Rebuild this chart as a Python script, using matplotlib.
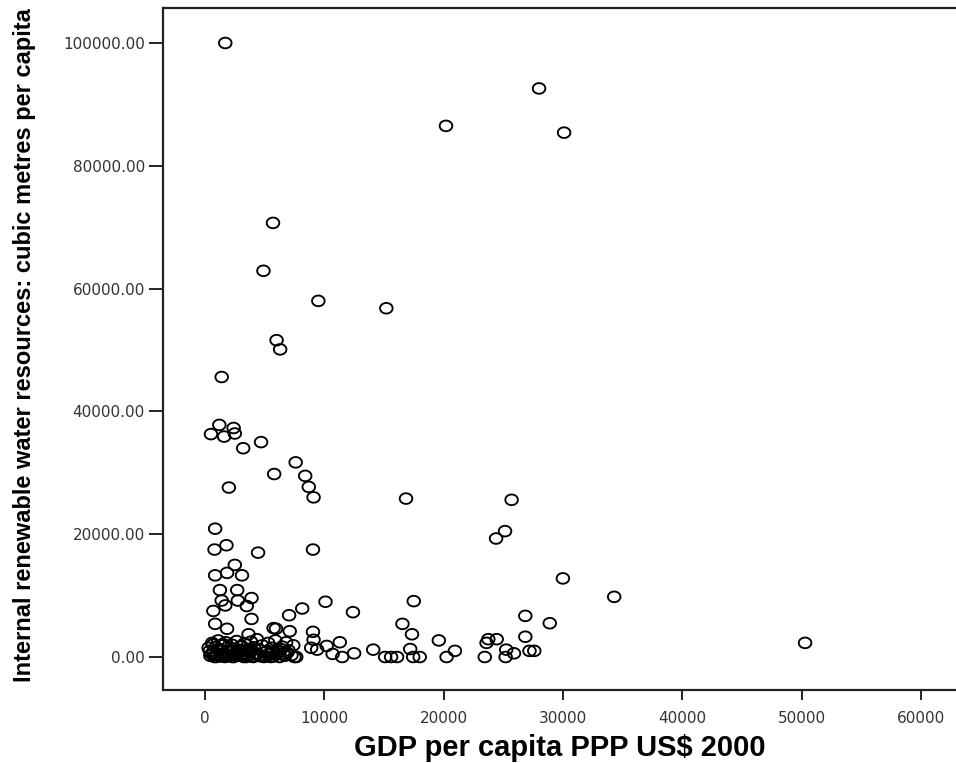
import matplotlib
matplotlib.use("Agg")
import matplotlib.pyplot as plt
import numpy as np
from matplotlib.path import Path

# GDP per capita (PPP US$ 2000) vs internal renewable water resources per capita
gdp = [
    1700, 28000, 20200, 30100, 5700, 4900, 9500, 15200, 6000, 6300, 1400,
    1200, 2400, 500, 1600, 2500, 4700, 3200, 7600, 5800, 8400, 8700, 9100,
    2000, 16850, 25700, 25150, 24400, 30000, 34300, 50300,
    850, 800, 1800, 4450, 9050, 2500, 1850, 850, 3100, 1250, 2700, 3900,
    1400, 2750, 3500, 700, 1700, 3900, 7050, 8150, 10100, 12400, 17500,
    16550, 17350, 850, 1850, 9050, 9100, 5950, 7100, 5750, 3650,
    10200, 11300, 14100, 12500, 9400, 10700, 11500, 15100, 15600, 16100,
    17200, 17450, 18000, 7650, 7400, 8900,
    26850, 28900, 26850, 19600, 23750, 24450, 23600, 20950, 20250, 23450,
    25250, 25900, 25200, 27200, 27600,
    # dense low-income cluster
    300, 450, 600, 700, 800, 900, 1000, 1100, 1200, 1300, 1450, 1550,
    1650, 1750, 1900, 2050, 2150, 2250, 2400, 2550, 2650, 2800, 2950,
    3050, 3150, 3300, 3450, 3550, 3700, 3850, 3950, 4100, 4250, 4350,
    4500, 4650, 4800, 4950, 5100, 5300, 5450, 5600, 5750, 5900, 6100,
    6250, 6450, 6600, 6800, 7000, 7250, 550, 950, 1350, 1800, 2300,
    2700, 3250, 3600, 4050, 4400, 5000, 5500, 6050, 6700, 7500,
    400, 1150, 1600, 2100, 2500, 3000, 3400, 3800, 4300, 4700, 5200,
    5650, 6350, 6900, 650, 1500, 2450, 3350,
]
water = [
    100000, 92600, 86500, 85400, 70700, 62900, 58000, 56800, 51600, 50100, 45600,
    37800, 37300, 36300, 35900, 36400, 35000, 34000, 31700, 29800, 29500, 27700, 26000,
    27600, 25800, 25600, 20500, 19300, 12800, 9800, 2300,
    20900, 17500, 18200, 17000, 17500, 15000, 13700, 13300, 13300, 10900, 10900, 9600,
    9200, 9200, 8300, 7500, 8400, 6200, 6800, 7900, 9000, 7300, 9100,
    5400, 3700, 5400, 4600, 4100, 2800, 4600, 4200, 4700, 3700,
    1800, 2400, 1200, 600, 1200, 500, 0, 0, 0, 0,
    1300, 0, 0, 0, 1900, 1500,
    6700, 5500, 3300, 2700, 2900, 2900, 2300, 1000, 0, 0,
    1200, 600, 0, 1000, 1000,
    # dense low-income cluster
    1500, 200, 2300, 800, 0, 1600, 400, 2700, 1100, 100, 1900, 600,
    0, 2400, 900, 300, 1500, 2000, 0, 700, 2600, 1200, 200,
    1800, 500, 2200, 0, 1300, 800, 2500, 100, 1600, 600, 2900,
    200, 1100, 1900, 0, 800, 2300, 400, 1500, 100, 2700, 900,
    0, 1700, 500, 2400, 1100, 300, 500, 0, 300, 100, 0,
    300, 0, 200, 0, 500, 100, 0, 600, 200, 0,
    1000, 1300, 500, 1000, 300, 1700, 600, 1200, 500, 100, 1000,
    700, 1300, 700, 2000, 2100, 1300, 1100,
]

x_ticks = [0, 10000, 20000, 30000, 40000, 50000, 60000]
y_ticks = [0, 20000, 40000, 60000, 80000, 100000]

# slightly flattened open circle, as in the original export
t = np.linspace(0, 2 * np.pi, 40)
ellipse = Path(np.column_stack([1.18 * np.cos(t), np.sin(t)]), closed=True)

fig = plt.figure(figsize=(9.56, 7.63), dpi=100)
ax = fig.add_axes([163 / 956, 73 / 763, (956 - 163) / 956, (690 - 8) / 763])

ax.scatter(gdp, water, marker=ellipse, s=82, facecolors="none",
           edgecolors="black", linewidths=1.35, zorder=3)

ax.set_xlim(-3520, 62950)
ax.set_ylim(-5375, 105700)
ax.set_xticks(x_ticks)
ax.set_xticklabels([str(v) for v in x_ticks])
ax.set_yticks(y_ticks)
ax.set_yticklabels([f"{v:.2f}" for v in y_ticks])

for side in ["left", "bottom", "top"]:
    ax.spines[side].set_linewidth(1.6)
    ax.spines[side].set_color("#222222")
ax.spines["right"].set_visible(False)

ax.tick_params(axis="y", length=10, width=1.2, direction="out", pad=3,
               labelsize=11, labelcolor="#333333")
ax.tick_params(axis="x", length=7, width=1.2, direction="out", pad=8,
               labelsize=11, labelcolor="#333333")

ax.set_xlabel("GDP per capita PPP US$ 2000", fontsize=21, fontweight="bold",
              family=["Liberation Sans", "DejaVu Sans"], labelpad=6)
fig.text(25 / 956, 1 - 345 / 763,
         "Internal renewable water resources: cubic metres per capita",
         rotation=90, ha="center", va="center", fontsize=17, fontweight="bold",
         family=["Liberation Sans", "DejaVu Sans"])

fig.savefig("out.png", dpi=100)
